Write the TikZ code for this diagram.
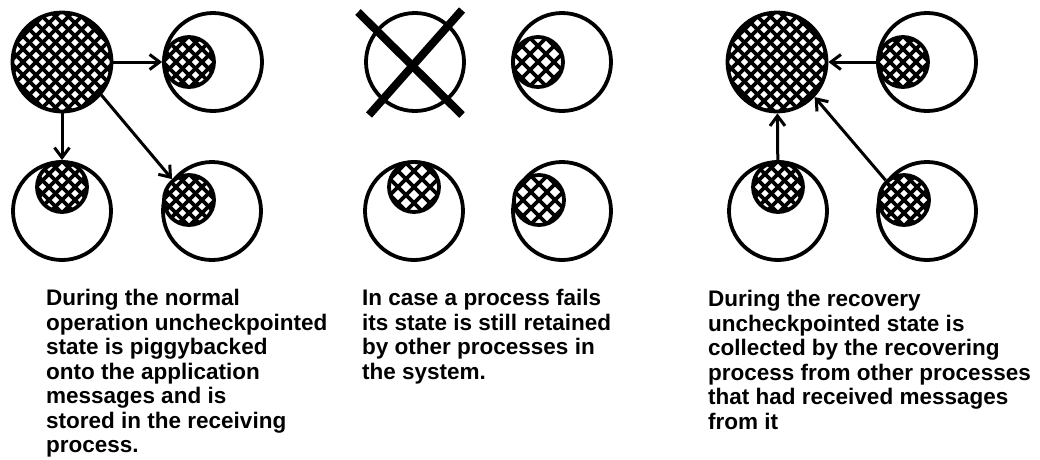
\documentclass[tikz,border=0pt]{standalone}
\usepackage{fontspec}
\setmainfont{Liberation Sans}
\usetikzlibrary{arrows.meta}
\tikzset{
  outline/.style={circle, draw, line width=3.8pt, inner sep=0pt, fill=white},
  bigproc/.style={outline, minimum size=98pt},
  hatchproc/.style={outline, minimum size=99pt},
  chk/.style={outline, minimum size=50pt},
  hatched/.style={path picture={
    \foreach \k in {-9,...,9}{
      \draw[line width=3.8pt] ([xshift={\k*#1-80pt},yshift=-80pt]path picture bounding box.center) -- ++(160pt,160pt);
      \draw[line width=3.8pt] ([xshift={\k*#1-80pt},yshift=80pt]path picture bounding box.center) -- ++(160pt,-160pt);
    }}},
  hatched/.default=13pt,
  arr/.style={line width=3pt, -{Straight Barb[length=10pt,width=15pt]}},
  crossline/.style={line width=8pt},
  caption/.style={anchor=north west, align=left, inner sep=0pt,
    font=\fontsize{22.5}{24.5}\selectfont\bfseries},
}
\begin{document}
\begin{tikzpicture}[x=1pt,y=-1pt]
\useasboundingbox (0,0) rectangle (1040,459);

% ---------- panel 1 ----------
\node[hatchproc, hatched] (b1) at (62,62) {};
\node[bigproc] (l12) at (213,62) {};
\node[bigproc] (l13) at (62,211) {};
\node[bigproc] (l14) at (212,211) {};
\node[chk, hatched] (s12) at (189,62) {};
\node[chk, hatched] (s13) at (62,187) {};
\node[chk, hatched] (s14) at (189,200) {};
\draw[arr] (b1) -- (s12);
\draw[arr] (b1) -- (s13);
\draw[arr] (b1.-40) -- (s14.129);

% ---------- panel 2 ----------
\node[bigproc] (f2) at (415,62) {};
\node[bigproc] (l22) at (562,62) {};
\node[bigproc] (l23) at (414,211) {};
\node[bigproc] (l24) at (562,211) {};
\node[chk, hatched=16pt] (s22) at (538,62) {};
\node[chk, hatched=16pt] (s23) at (414,187) {};
\node[chk, hatched=16pt] (s24) at (539,200) {};
\coordinate (xa) at (358,12);
\coordinate (xb) at (462,115);
\coordinate (xc) at (462,10);
\coordinate (xd) at (369,115);
\draw[crossline] (xa) -- (xb);
\draw[crossline] (xc) -- (xd);

% ---------- panel 3 ----------
\node[hatchproc, hatched] (b3) at (777,62) {};
\node[bigproc] (l32) at (927,62) {};
\node[bigproc] (l33) at (778,211) {};
\node[bigproc] (l34) at (927,211) {};
\node[chk, hatched] (s32) at (903,62) {};
\node[chk, hatched] (s33) at (778,187) {};
\node[chk, hatched] (s34) at (904,200) {};
\draw[arr] (s32) -- (b3);
\draw[arr] (s33) -- (b3);
\draw[arr] (s34.133) -- (b3.-43);

% ---------- captions ----------
\node[caption] (t1) at (46,289) {During the normal\\operation uncheckpointed\\state is piggybacked\\onto the application\\messages and is\\stored in the receiving\\process.};
\node[caption] (t2) at (362,289) {In case a process fails\\its state is still retained\\by other processes in\\the system.};
\node[caption] (t3) at (708,290) {During the recovery\\uncheckpointed state is\\collected by the recovering\\process from other processes\\that had received messages\\from it};
\end{tikzpicture}
\end{document}
